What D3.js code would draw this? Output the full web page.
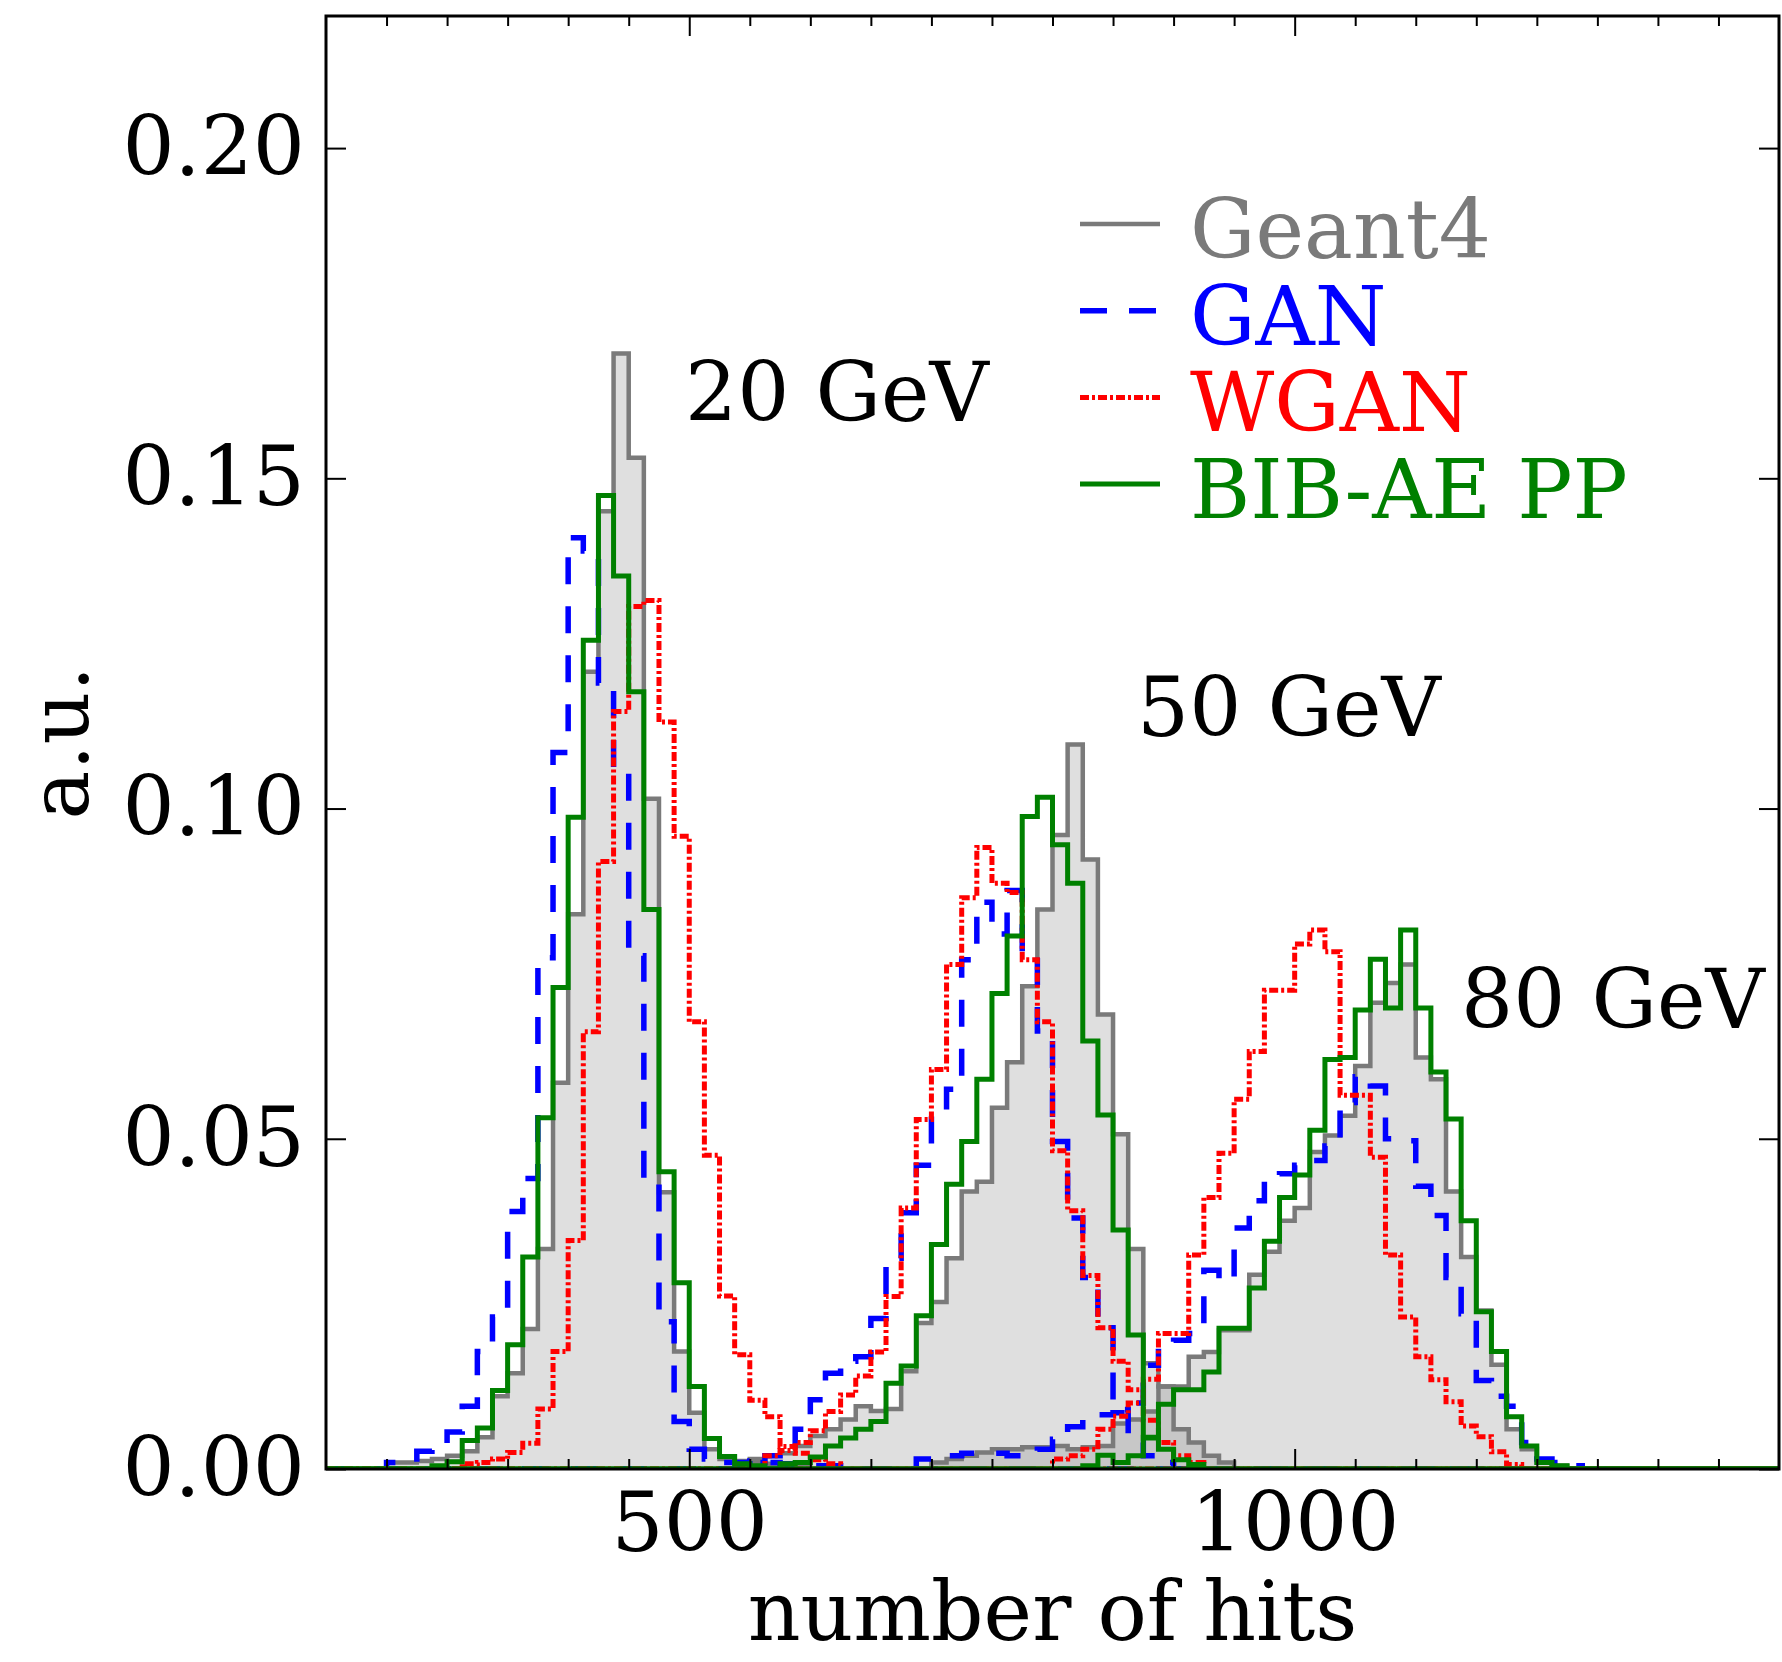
<!DOCTYPE html>
<html>
<head>
<meta charset="utf-8">
<script src="https://cdn.jsdelivr.net/npm/d3@7"></script>
<style>
  html, body { margin: 0; padding: 0; background: #ffffff; }
  svg { display: block; }
  text { font-family: "DejaVu Serif", serif; }
</style>
</head>
<body>
<svg id="chart" width="1782" height="1662"></svg>
<script>
// ---- binning ----
const BIN_WIDTH = 12.5;
const X_MIN = 200, X_MAX = 1400;

// ---- series ----
const seriesNames = ["Geant4", "GAN", "WGAN", "BIB-AE PP"];
const seriesColors = ["#7a7a7a", "#0000ff", "#ff0000", "#008000"];
const energyLabels = ["20 GeV", "50 GeV", "80 GeV"];

// ---- tick labels ----
const xMajorTicks = [500, 1000];
const yMajorTicks = [0.00, 0.05, 0.10, 0.15, 0.20];

// ---- histogram contents (lower edge of first bin, then bin heights) ----
// Geant4
const geant4_20_start = 250;
const geant4_20 = [0.001, 0.001, 0.0012, 0.0015, 0.002, 0.0027, 0.0048, 0.011, 0.0145, 0.0212,
  0.0333, 0.0585, 0.084, 0.1207, 0.145, 0.1689, 0.1531, 0.1015, 0.0419, 0.0178,
  0.0085, 0.003, 0.0015, 0.0012, 0.001, 0.0008, 0.0006, 0.0005];
const geant4_50_start = 537.5;
const geant4_50 = [0.001, 0.0015, 0.002, 0.0024, 0.0035, 0.005, 0.006, 0.0075, 0.0095, 0.0088,
  0.0091, 0.0148, 0.0221, 0.0253, 0.0319, 0.042, 0.0435, 0.0547, 0.0616, 0.0731,
  0.0847, 0.096, 0.1097, 0.0923, 0.0688, 0.0507, 0.0333, 0.016, 0.0125, 0.006,
  0.004, 0.002, 0.001];
const geant4_80_start = 700;
const geant4_80 = [0.001, 0.0015, 0.002, 0.0025, 0.003, 0.003, 0.0033, 0.0033, 0.0035, 0.003,
  0.0033, 0.0035, 0.0069, 0.0075, 0.0087, 0.0125, 0.0125, 0.017, 0.0177, 0.021,
  0.021, 0.0294, 0.0329, 0.0376, 0.0395, 0.048, 0.0505, 0.0535, 0.061, 0.0706,
  0.0736, 0.0764, 0.0623, 0.059, 0.042, 0.0321, 0.024, 0.0158, 0.006, 0.003,
  0.001, 0.0005];

// GAN
const gan_20_start = 250;
const gan_20 = [0.001, 0.0015, 0.0027, 0.0035, 0.0056, 0.0095, 0.0178, 0.023, 0.039, 0.044,
  0.0774, 0.1085, 0.141, 0.139, 0.119, 0.106, 0.0777, 0.0433, 0.0223, 0.0072,
  0.003, 0.0015, 0.001, 0.001, 0.0012, 0.001, 0.0008, 0.0006, 0.0005, 0.0005];
const gan_50_start = 550;
const gan_50 = [0.001, 0.002, 0.003, 0.006, 0.0105, 0.0145, 0.0163, 0.017, 0.0228, 0.0319,
  0.0388, 0.046, 0.054, 0.0575, 0.0771, 0.0858, 0.081, 0.0876, 0.077, 0.0663,
  0.0496, 0.038, 0.029, 0.0214, 0.009, 0.004, 0.002, 0.001];
const gan_80_start = 687.5;
const gan_80 = [0.0015, 0.002, 0.002, 0.0024, 0.0024, 0.0024, 0.002, 0.002, 0.003, 0.0045,
  0.0064, 0.0075, 0.0082, 0.0085, 0.01, 0.0157, 0.0185, 0.0195, 0.0205, 0.0301,
  0.0285, 0.0365, 0.0406, 0.044, 0.0447, 0.046, 0.0467, 0.0489, 0.0555, 0.0594,
  0.058, 0.05, 0.0497, 0.0428, 0.0384, 0.029, 0.0235, 0.0134, 0.011, 0.0095,
  0.004, 0.0015, 0.001, 0.0005];

// WGAN
const wgan_20_start = 312.5;
const wgan_20 = [0.0008, 0.001, 0.0015, 0.0025, 0.0039, 0.0091, 0.0178, 0.0346, 0.0662, 0.092,
  0.1147, 0.1306, 0.1315, 0.1131, 0.0958, 0.0677, 0.0475, 0.0262, 0.0173, 0.0104,
  0.0079, 0.0034, 0.0024, 0.0014, 0.0008];
const wgan_50_start = 562.5;
const wgan_50 = [0.002, 0.0028, 0.004, 0.0058, 0.0087, 0.0112, 0.0141, 0.0177, 0.0261, 0.0395,
  0.0529, 0.0605, 0.0764, 0.0865, 0.0941, 0.0887, 0.0873, 0.0771, 0.0677, 0.0482,
  0.0391, 0.0293, 0.0214, 0.0163, 0.012, 0.0074, 0.004, 0.002, 0.001];
const wgan_80_start = 800;
const wgan_80 = [0.0015, 0.002, 0.003, 0.006, 0.008, 0.01, 0.0136, 0.0205, 0.0205, 0.0324,
  0.0411, 0.0478, 0.056, 0.0632, 0.0725, 0.0725, 0.0795, 0.0816, 0.0783, 0.0566,
  0.0566, 0.0472, 0.0324, 0.023, 0.017, 0.0135, 0.0102, 0.0065, 0.0049, 0.0026,
  0.0007];

// BIB-AE PP
const bib_20_start = 287.5;
const bib_20 = [0.0005, 0.0011, 0.0043, 0.0062, 0.0119, 0.0188, 0.0321, 0.0532, 0.0729, 0.0987,
  0.1255, 0.1474, 0.1352, 0.1177, 0.0847, 0.045, 0.0282, 0.0125, 0.0046, 0.0019,
  0.0008, 0.0005];
const bib_50_start = 575;
const bib_50 = [0.0008, 0.001, 0.0018, 0.0035, 0.0047, 0.006, 0.0072, 0.013, 0.0156, 0.0232,
  0.034, 0.0431, 0.0496, 0.059, 0.072, 0.0807, 0.0988, 0.1017, 0.0945, 0.0887,
  0.0648, 0.0536, 0.0362, 0.0203, 0.0047, 0.003, 0.0014, 0.0007];
const bib_80_start = 825;
const bib_80 = [0.0005, 0.0021, 0.001, 0.002, 0.0048, 0.0098, 0.012, 0.012, 0.0147, 0.0213,
  0.0213, 0.0274, 0.0345, 0.0411, 0.0445, 0.0513, 0.062, 0.0623, 0.0695, 0.0772,
  0.0698, 0.0816, 0.0698, 0.0601, 0.053, 0.0376, 0.0238, 0.0178, 0.0079, 0.0035,
  0.001, 0.0005];

// ---- layout ----
const plot = { left: 326, right: 1779, top: 16, bottom: 1469 };
const FONT = 82;

const svg = d3.select("#chart");
svg.append("rect").attr("width", 1782).attr("height", 1662).attr("fill", "#ffffff");

const x = d3.scaleLinear().domain([X_MIN, X_MAX]).range([plot.left, plot.right]);
const y = d3.scaleLinear().domain([0, 0.22]).range([plot.bottom, plot.top]);

svg.append("defs").append("clipPath").attr("id", "plotclip")
  .append("rect")
  .attr("x", plot.left).attr("y", plot.top)
  .attr("width", plot.right - plot.left).attr("height", plot.bottom - plot.top);

// step outline over the full range; empty bins sit on zero
function stepPoints(start, vals) {
  const n = Math.round((X_MAX - X_MIN) / BIN_WIDTH);
  const offset = Math.round((start - X_MIN) / BIN_WIDTH);
  const pts = [[X_MIN, 0]];
  for (let i = 0; i < n; i++) {
    const j = i - offset;
    const v = (j >= 0 && j < vals.length) ? vals[j] : 0;
    const e0 = X_MIN + i * BIN_WIDTH;
    pts.push([e0, v], [e0 + BIN_WIDTH, v]);
  }
  pts.push([X_MAX, 0]);
  return pts;
}

const line = d3.line().x(d => x(d[0])).y(d => y(d[1]));
const area = d3.area().x(d => x(d[0])).y0(y(0)).y1(d => y(d[1]));

const histograms = [
  { series: 0, start: geant4_20_start, vals: geant4_20 },
  { series: 0, start: geant4_50_start, vals: geant4_50 },
  { series: 0, start: geant4_80_start, vals: geant4_80 },
  { series: 1, start: gan_20_start, vals: gan_20 },
  { series: 1, start: gan_50_start, vals: gan_50 },
  { series: 1, start: gan_80_start, vals: gan_80 },
  { series: 2, start: wgan_20_start, vals: wgan_20 },
  { series: 2, start: wgan_50_start, vals: wgan_50 },
  { series: 2, start: wgan_80_start, vals: wgan_80 },
  { series: 3, start: bib_20_start, vals: bib_20 },
  { series: 3, start: bib_50_start, vals: bib_50 },
  { series: 3, start: bib_80_start, vals: bib_80 }
];

const lineStyles = [
  { width: 4.5, dash: null },
  { width: 5.5, dash: "27,22" },
  { width: 5, dash: "9,3,3,3" },
  { width: 5, dash: null }
];

const g = svg.append("g").attr("clip-path", "url(#plotclip)");

// Geant4 reference histograms are filled
histograms.filter(h => h.series === 0).forEach(h => {
  g.append("path")
    .attr("d", area(stepPoints(h.start, h.vals)))
    .attr("fill", "#808080")
    .attr("fill-opacity", 0.25)
    .attr("stroke", "none");
});

histograms.forEach(h => {
  const st = lineStyles[h.series];
  g.append("path")
    .attr("d", line(stepPoints(h.start, h.vals)))
    .attr("fill", "none")
    .attr("stroke", seriesColors[h.series])
    .attr("stroke-width", st.width)
    .attr("stroke-linejoin", "miter")
    .attr("stroke-dasharray", st.dash);
});

// ---- axes ----
const xMinor = d3.range(X_MIN + 50, X_MAX, 50).filter(v => !xMajorTicks.includes(v));

function styleAxis(sel) {
  sel.select(".domain").remove();
  sel.selectAll(".tick line").attr("stroke", "#000").attr("stroke-width", 2);
  sel.selectAll(".tick text")
    .attr("fill", "#000")
    .style("font-family", "'DejaVu Serif', serif")
    .style("font-size", FONT + "px");
}

svg.append("g").attr("transform", `translate(0,${plot.bottom})`)
  .call(d3.axisBottom(x).tickValues(xMajorTicks).tickFormat(d3.format("d"))
    .tickSizeInner(-20).tickSizeOuter(0).tickPadding(24))
  .call(styleAxis);
svg.append("g").attr("transform", `translate(0,${plot.bottom})`)
  .call(d3.axisBottom(x).tickValues(xMinor).tickFormat("").tickSizeInner(-10).tickSizeOuter(0))
  .call(styleAxis);
svg.append("g").attr("transform", `translate(0,${plot.top})`)
  .call(d3.axisTop(x).tickValues(xMajorTicks).tickFormat("").tickSizeInner(-20).tickSizeOuter(0))
  .call(styleAxis);
svg.append("g").attr("transform", `translate(0,${plot.top})`)
  .call(d3.axisTop(x).tickValues(xMinor).tickFormat("").tickSizeInner(-10).tickSizeOuter(0))
  .call(styleAxis);

svg.append("g").attr("transform", `translate(${plot.left},0)`)
  .call(d3.axisLeft(y).tickValues(yMajorTicks).tickFormat(d3.format(".2f"))
    .tickSizeInner(-20).tickSizeOuter(0).tickPadding(21))
  .call(styleAxis);
svg.append("g").attr("transform", `translate(${plot.right},0)`)
  .call(d3.axisRight(y).tickValues(yMajorTicks).tickFormat("").tickSizeInner(-20).tickSizeOuter(0))
  .call(styleAxis);

// frame
svg.append("rect")
  .attr("x", plot.left).attr("y", plot.top)
  .attr("width", plot.right - plot.left).attr("height", plot.bottom - plot.top)
  .attr("fill", "none").attr("stroke", "#000").attr("stroke-width", 3);

// axis titles
svg.append("text")
  .attr("x", (plot.left + plot.right) / 2).attr("y", 1640)
  .attr("text-anchor", "middle").style("font-size", FONT + "px").attr("fill", "#000")
  .text("number of hits");
svg.append("text")
  .attr("transform", `translate(88,${(plot.top + plot.bottom) / 2}) rotate(-90)`)
  .attr("text-anchor", "middle").style("font-size", FONT + "px").attr("fill", "#000")
  .text("a.u.");

// energy annotations
const energyPos = [[685, 421], [1137, 736], [1461, 1028]];
energyLabels.forEach((t, i) => {
  svg.append("text")
    .attr("x", energyPos[i][0]).attr("y", energyPos[i][1])
    .style("font-size", FONT + "px").attr("fill", "#000")
    .text(t);
});

// legend
const legend = svg.append("g");
seriesNames.forEach((name, i) => {
  const base = 258 + i * 86.7;
  const st = lineStyles[i];
  legend.append("line")
    .attr("x1", 1080).attr("x2", 1160)
    .attr("y1", base - 34).attr("y2", base - 34)
    .attr("stroke", seriesColors[i])
    .attr("stroke-width", st.width)
    .attr("stroke-dasharray", st.dash);
  legend.append("text")
    .attr("x", 1190).attr("y", base)
    .style("font-size", FONT + "px")
    .attr("fill", seriesColors[i])
    .text(name);
});
</script>
</body>
</html>
